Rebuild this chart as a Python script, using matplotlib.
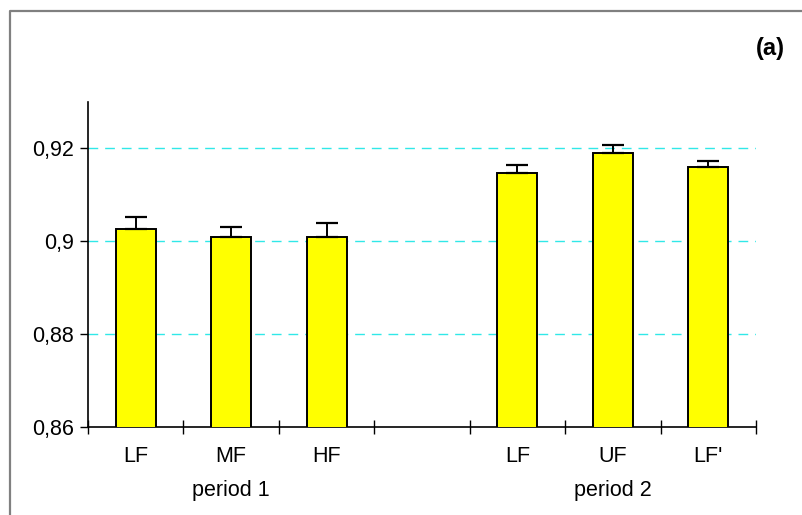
import numpy as np
import matplotlib.pyplot as plt
from matplotlib.lines import Line2D

plt.rcParams['font.family'] = ['Liberation Sans', 'DejaVu Sans']

# bar data, one empty slot between the two periods
labels = ['LF', 'MF', 'HF', '', 'LF', 'UF', "LF'"]
means = [0.9026, 0.9009, 0.9009, np.nan, 0.9148, 0.9191, 0.9161]
errs = [0.0027, 0.0022, 0.0031, 0.0, 0.0017, 0.0017, 0.0013]
periods = ['period 1', 'period 2']
period_centers = [1, 5]
yticks = [0.86, 0.88, 0.90, 0.92]

W, H = 802, 515
fig = plt.figure(figsize=(W / 100, H / 100), dpi=100)
# chart frame: only its top and left edges fall inside the picture
top = 1 - 11 / H
left = 10 / W
fig.lines.append(Line2D([left, left, 1.01], [-0.01, top, top], transform=fig.transFigure,
                        color='#808080', lw=1.6))

ax = fig.add_axes([88 / W, 88 / H, (756 - 88) / W, (413 - 88) / H])
x = np.arange(len(labels))
ax.bar(x, means, width=0.42, bottom=0, color='#ffff00', edgecolor='black', lw=1.4, zorder=3)
ok = ~np.isnan(means)
ax.errorbar(x[ok], np.array(means)[ok], yerr=[np.zeros(ok.sum()), np.array(errs)[ok]],
            fmt='none', ecolor='black', elinewidth=1.4, capsize=8, capthick=1.6, zorder=4)

ax.set_xlim(-0.5, 6.5)
ax.set_ylim(0.86, 0.93)
for y in yticks[1:]:
    ax.axhline(y, color='#30e8e8', lw=1, ls=(0, (7, 5)), zorder=1)

ax.set_yticks(yticks)
ax.set_yticklabels([('%g' % v).replace('.', ',') for v in yticks], fontsize=15.5)
ax.tick_params(axis='y', direction='out', length=6, width=1, pad=4)

ax.set_xticks(np.arange(-0.5, 7, 1))
ax.set_xticklabels([])
ax.tick_params(axis='x', which='major', direction='inout', length=10, width=1)
ax.set_xticks(x, minor=True)
ax.set_xticklabels(labels, minor=True, fontsize=15.5)
ax.tick_params(axis='x', which='minor', length=0, pad=14)

for name, c in zip(periods, period_centers):
    ax.text(c, -0.195, name, transform=ax.get_xaxis_transform(), ha='center', va='center',
            fontsize=15.5)

ax.spines['top'].set_visible(False)
ax.spines['right'].set_visible(False)
for s in ('left', 'bottom'):
    ax.spines[s].set_linewidth(1.2)

fig.text(770 / W, 1 - 48 / H, '(a)', fontsize=17, fontweight='bold', ha='center', va='center')

fig.savefig('out.png', dpi=100)
